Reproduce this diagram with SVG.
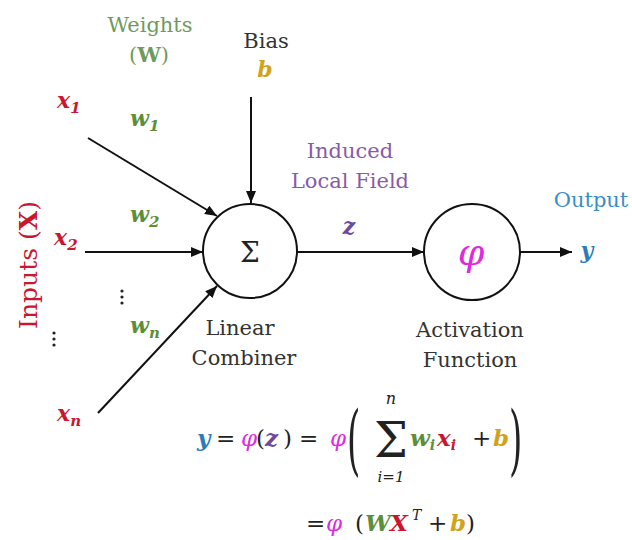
<svg xmlns="http://www.w3.org/2000/svg" width="632" height="540" viewBox="0 0 632 540" font-family="'DejaVu Serif', 'Liberation Serif', serif">
<defs>
<style>
.t{font-family:"DejaVu Serif","Liberation Serif",serif;fill:#333;font-size:21px}
.f{font-family:"DejaVu Serif","Liberation Serif",serif;fill:#222}
.m{font-family:"DejaVu Serif","Liberation Serif",serif;font-style:italic;font-weight:bold}
.red{fill:#c8172e}.grn{fill:#5b8f3a}.gold{fill:#d2a21a}.pur{fill:#6a4a9e}.mag{fill:#e02ae0}.blu{fill:#2c7cb8}
.wire{stroke:#111;stroke-width:2;fill:none;marker-end:url(#ah)}
.node{fill:#fff;stroke:#111;stroke-width:2}
</style>
<marker id="ah" markerUnits="userSpaceOnUse" markerWidth="12" markerHeight="10" refX="12" refY="5" orient="auto">
<path d="M0,0 L12,5 L0,10 z" fill="#111"/>
</marker>
</defs>
<rect width="632" height="540" fill="#fff"/>

<g id="connectors">
<line class="wire" x1="88" y1="138" x2="217" y2="216"/>
<line class="wire" x1="85" y1="252" x2="203" y2="252"/>
<line class="wire" x1="98" y1="413" x2="217" y2="286"/>
<line class="wire" x1="251" y1="97" x2="251" y2="203"/>
<line class="wire" x1="298" y1="252" x2="424" y2="252"/>
<line class="wire" x1="520" y1="252" x2="572" y2="252"/>
</g>

<g id="weights-label">
<text class="t" x="150" y="32" text-anchor="middle" style="fill:#6f9a5c">Weights</text>
<text class="t" x="149" y="62" text-anchor="middle" style="fill:#6f9a5c">(<tspan font-weight="bold">W</tspan>)</text>
</g>

<g id="bias">
<text class="t" x="266" y="48" text-anchor="middle">Bias</text>
<text class="m gold" x="265" y="77" font-size="22" text-anchor="middle">b</text>
</g>

<g id="input-x1">
<text class="m red" x="57" y="108" font-size="22">x<tspan font-size="15" dy="5">1</tspan></text>
<text class="m grn" x="130" y="126" font-size="22">w<tspan font-size="15" dy="5">1</tspan></text>
</g>
<g id="input-x2">
<text class="m red" x="54" y="245" font-size="22">x<tspan font-size="15" dy="5">2</tspan></text>
<text class="m grn" x="130" y="222" font-size="22">w<tspan font-size="15" dy="5">2</tspan></text>
</g>
<g id="input-xn">
<text class="m red" x="57" y="421" font-size="22">x<tspan font-size="15" dy="5">n</tspan></text>
<text class="m grn" x="130" y="333" font-size="22">w<tspan font-size="15" dy="5">n</tspan></text>
</g>

<g id="ellipses" fill="#222">
<circle cx="122" cy="291" r="1.6"/><circle cx="122" cy="297" r="1.6"/><circle cx="122" cy="303" r="1.6"/>
<circle cx="54" cy="333" r="1.6"/><circle cx="54" cy="339" r="1.6"/><circle cx="54" cy="345" r="1.6"/>
</g>

<g id="inputs-label">
<text class="t red" x="0" y="0" text-anchor="middle" style="font-size:25px" transform="translate(37,265) rotate(-90)">Inputs (<tspan font-weight="bold">X</tspan>)</text>
</g>

<g id="linear-combiner">
<circle class="node" cx="250" cy="251" r="47"/>
<text class="f" x="250" y="262" font-size="28" text-anchor="middle">Σ</text>
<text class="t" x="240" y="335" text-anchor="middle">Linear</text>
<text class="t" x="244" y="365" text-anchor="middle">Combiner</text>
</g>

<g id="induced-field">
<text class="t" x="350" y="158" text-anchor="middle" style="fill:#8a5aa8">Induced</text>
<text class="t" x="350" y="188" text-anchor="middle" style="fill:#8a5aa8">Local Field</text>
<text class="m pur" x="349" y="234" font-size="22" text-anchor="middle">z</text>
</g>

<g id="activation">
<circle class="node" cx="472" cy="252" r="48"/>
<text class="f mag" x="471" y="265" font-size="38" font-style="italic" text-anchor="middle">φ</text>
<text class="t" x="470" y="337" text-anchor="middle">Activation</text>
<text class="t" x="470" y="367" text-anchor="middle">Function</text>
</g>

<g id="output">
<text class="t" x="591" y="207" text-anchor="middle" style="fill:#3a8ec6">Output</text>
<text class="m blu" x="587" y="258" font-size="22" text-anchor="middle">y</text>
</g>

<g id="formula" font-size="23">
<text class="m blu" x="197" y="446">y</text>
<text class="f" x="216" y="446">=</text>
<text class="f mag" x="241" y="446" font-style="italic">φ</text>
<text class="f" x="256" y="446">(</text>
<text class="m pur" x="265" y="446">z</text>
<text class="f" x="283" y="446">)</text>
<text class="f" x="299" y="446">=</text>
<text class="f mag" x="330" y="446" font-style="italic">φ</text>
<text class="f" x="0" y="0" font-size="76" transform="translate(347,466) scale(0.45,1)">(</text>
<text class="f" x="391" y="404" font-size="16" font-style="italic" text-anchor="middle">n</text>
<text class="f" x="391" y="457" font-size="48" text-anchor="middle">Σ</text>
<text class="f" x="391" y="482" font-size="15" font-style="italic" text-anchor="middle">i=1</text>
<text class="m grn" x="410" y="446">w<tspan font-size="14" dy="4">i</tspan></text>
<text class="m red" x="437" y="446">x<tspan font-size="14" dy="4">i</tspan></text>
<text class="f" x="472" y="446">+</text>
<text class="m gold" x="493" y="446">b</text>
<text class="f" x="0" y="0" font-size="76" transform="translate(509,466) scale(0.45,1)">)</text>

<text class="f" x="306" y="531">=</text>
<text class="f mag" x="326" y="531" font-style="italic">φ</text>
<text class="f" x="355" y="531">(</text>
<text class="m grn" x="365" y="531">W</text>
<text class="m red" x="390" y="531">X</text>
<text class="f" x="412" y="520" font-size="14" font-style="italic">T</text>
<text class="f" x="428" y="531">+</text>
<text class="m gold" x="450" y="531">b</text>
<text class="f" x="466" y="531">)</text>
</g>
</svg>
